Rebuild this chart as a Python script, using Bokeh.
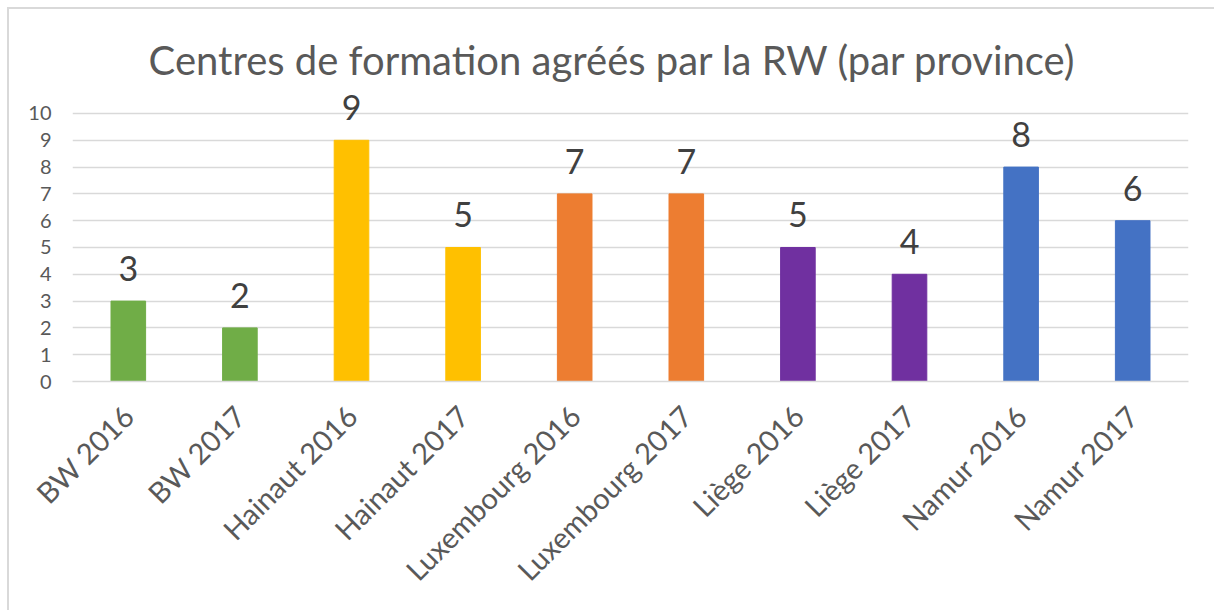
from math import pi
from bokeh.plotting import figure
from bokeh.models import FactorRange, Range1d, FixedTicker, ColumnDataSource, Label
from bokeh.core.properties import value
from bokeh.embed import file_html
from bokeh.resources import INLINE

categories = ["BW 2016", "BW 2017", "Hainaut 2016", "Hainaut 2017",
              "Luxembourg 2016", "Luxembourg 2017", "Liège 2016", "Liège 2017",
              "Namur 2016", "Namur 2017"]
counts = [3, 2, 9, 5, 7, 7, 5, 4, 8, 6]
colors = ["#70AD47", "#70AD47", "#FFC000", "#FFC000", "#ED7D31", "#ED7D31",
          "#7030A0", "#7030A0", "#4472C4", "#4472C4"]
y_ticks = [0, 1, 2, 3, 4, 5, 6, 7, 8, 9, 10]
title_text = "Centres de formation agréés par la RW (par province)"

src = ColumnDataSource(dict(cat=categories, val=counts, col=colors,
                            lab=[str(v) for v in counts]))

FONT = "Lato"
p = figure(x_range=FactorRange(*categories), y_range=Range1d(0, 13.88),
           frame_width=1116, frame_height=372,
           output_backend="svg", toolbar_location=None,
           min_border_left=63, min_border_right=26, min_border_top=0,
           min_border_bottom=229)
p.styles = {"margin-left": "7px", "margin-top": "7px",
            "border-top": "2px solid #d9d9d9", "border-left": "2px solid #d9d9d9"}

p.vbar(x="cat", top="val", width=0.31, color="col", source=src)
p.text(x="cat", y="val", text="lab", source=src, text_align="center",
       text_baseline="bottom", y_offset=-20, text_font=value(FONT),
       text_font_size="34px", text_color="#404040")

# title placed inside the (enlarged) frame, centred on the whole chart
p.add_layout(Label(x=4.84, y=12, text=title_text, text_align="center",
                   text_baseline="middle", text_font=FONT,
                   text_font_size="40px", text_color="#595959"))

p.outline_line_color = None
p.xgrid.grid_line_color = None
p.ygrid.grid_line_color = "#d9d9d9"
p.ygrid.grid_line_width = 1.3
p.yaxis.ticker = FixedTicker(ticks=y_ticks)
p.yaxis.axis_line_color = None
p.yaxis.major_tick_line_color = None
p.yaxis.minor_tick_line_color = None
p.yaxis.major_label_text_font = FONT
p.yaxis.major_label_text_font_size = "20px"
p.yaxis.major_label_text_color = "#595959"
p.yaxis.major_label_standoff = 15

p.xaxis.axis_line_color = "#d9d9d9"
p.xaxis.axis_line_width = 1.3
p.xaxis.major_tick_line_color = None
p.xaxis.minor_tick_line_color = None
p.xaxis.major_label_orientation = pi / 4
p.xaxis.major_label_text_font = FONT
p.xaxis.major_label_text_font_size = "29px"
p.xaxis.major_label_text_color = "#595959"
p.xaxis.major_label_standoff = 23

open("out.html", "w").write(file_html(p, INLINE))
